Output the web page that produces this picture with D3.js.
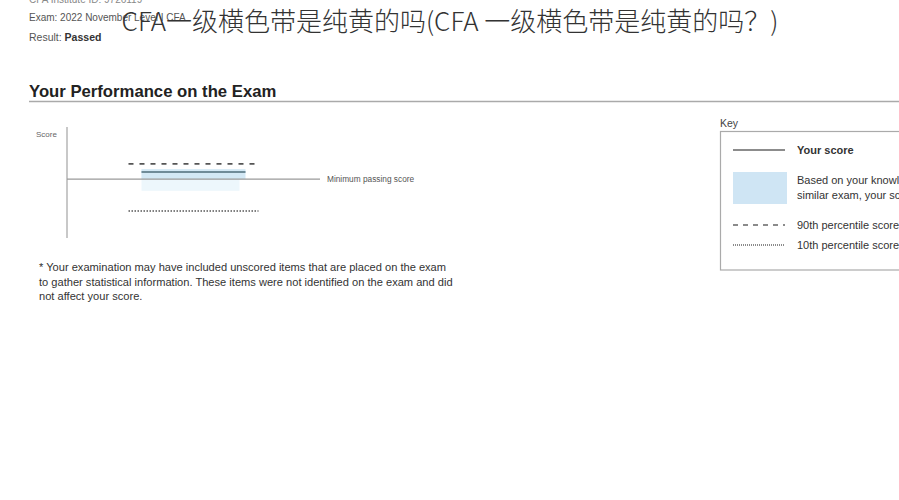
<!DOCTYPE html>
<html><head><meta charset="utf-8">
<script src="https://cdn.jsdelivr.net/npm/d3@7/dist/d3.min.js"></script>
<style>body{margin:0;background:#fff;}svg{display:block;}</style>
</head><body><div id="c"></div>
<script>
// ---- data ----
const categories = ["Exam"];
const minimumPassing = [53];
const yourScore = [59.5];
const bandLow = [42.5];
const bandHigh = [62];
const p90 = [66.7];
const p10 = [24.3];
const scoreDomain = [0, 100];
const headerLines = ["CFA Institute ID: 9726119", "Exam: 2022 November Level I CFA", "Result: "];
const resultText = "Passed";
const titleText = "CFA一级横色带是纯黄的吗(CFA 一级横色带是纯黄的吗？)";
const sectionTitle = "Your Performance on the Exam";
const footnote = ["* Your examination may have included unscored items that are placed on the exam",
  "to gather statistical information. These items were not identified on the exam and did",
  "not affect your score."];
const keyItems = [
  {type:"solid", text:["Your score"], bold:true},
  {type:"band", text:["Based on your knowledge of the topics, if you took a", "similar exam, your score would likely fall in this range"]},
  {type:"dash", text:["90th percentile score"]},
  {type:"dot", text:["10th percentile score"]}
];

const W = 899, H = 500;
const svg = d3.select("#c").append("svg").attr("width", W).attr("height", H);
const sans = "'Liberation Sans', Arial, sans-serif";

// header
svg.append("text").attr("x", 29).attr("y", 3).attr("font-family", sans).attr("font-size", 10)
  .attr("fill", "#888").text(headerLines[0]);
svg.append("text").attr("x", 29).attr("y", 21).attr("font-family", sans).attr("font-size", 10)
  .attr("fill", "#555").text(headerLines[1]);
const r = svg.append("text").attr("x", 29).attr("y", 41).attr("font-family", sans).attr("font-size", 10.5).attr("fill", "#555");
r.append("tspan").text(headerLines[2]);
r.append("tspan").attr("font-weight", "bold").attr("fill", "#333").text(resultText);

// section title
svg.append("text").attr("x", 29).attr("y", 97).attr("font-family", sans).attr("font-size", 16.7)
  .attr("font-weight", "bold").attr("fill", "#222").text(sectionTitle);
svg.append("line").attr("x1", 29).attr("x2", W).attr("y1", 101.5).attr("y2", 101.5)
  .attr("stroke", "#aaa").attr("stroke-width", 1.5);

// chart
const y = d3.scaleLinear().domain(scoreDomain).range([238, 127]);
const x = d3.scaleBand().domain(categories).range([67, 320]).paddingInner(0).paddingOuter(0.473);
const inset = 13;

const g = svg.append("g");
g.append("text").attr("x", 36).attr("y", 137).attr("font-family", sans).attr("font-size", 8).attr("fill", "#666").text("Score");

// band
categories.forEach((c, i) => {
  g.append("rect").attr("x", x(c) + inset).attr("width", x.bandwidth() - 2 * inset - 6)
    .attr("y", y(bandHigh[i])).attr("height", y(bandLow[i]) - y(bandHigh[i]))
    .attr("fill", "#e6f3fb").attr("opacity", 0.7);
  g.append("rect").attr("x", x(c) + inset).attr("width", x.bandwidth() - 2 * inset)
    .attr("y", y(bandHigh[i])).attr("height", y(minimumPassing[i]) - y(bandHigh[i]))
    .attr("fill", "#d3e8f5");
});

// axis
g.append("line").attr("x1", 67).attr("x2", 67).attr("y1", y(scoreDomain[1])).attr("y2", y(scoreDomain[0]))
  .attr("stroke", "#c8c8c8").attr("stroke-width", 2);
// min passing
g.append("line").attr("x1", 67).attr("x2", 320).attr("y1", y(minimumPassing[0])).attr("y2", y(minimumPassing[0]))
  .attr("stroke", "#9a9a9a").attr("stroke-width", 1.2);
g.append("text").attr("x", 327).attr("y", y(minimumPassing[0]) + 3).attr("font-family", sans).attr("font-size", 8.3)
  .attr("fill", "#555").text("Minimum passing score");

categories.forEach((c, i) => {
  g.append("line").attr("x1", x(c)).attr("x2", x(c) + x.bandwidth()).attr("y1", y(p90[i])).attr("y2", y(p90[i]))
    .attr("stroke", "#555").attr("stroke-width", 1.8).attr("stroke-dasharray", "5,6");
  g.append("line").attr("x1", x(c) + inset).attr("x2", x(c) + x.bandwidth() - inset).attr("y1", y(yourScore[i])).attr("y2", y(yourScore[i]))
    .attr("stroke", "#6f8b98").attr("stroke-width", 2);
  g.append("line").attr("x1", x(c)).attr("x2", x(c) + x.bandwidth()).attr("y1", y(p10[i])).attr("y2", y(p10[i]))
    .attr("stroke", "#555").attr("stroke-width", 1.6).attr("stroke-dasharray", "1.5,1.5");
});

// footnote
footnote.forEach((t, i) => svg.append("text").attr("x", 39).attr("y", 271 + i * 14.5).attr("font-family", sans)
  .attr("font-size", 11.1).attr("fill", "#333").text(t));

// key
svg.append("text").attr("x", 720).attr("y", 127).attr("font-family", sans).attr("font-size", 10.5).attr("fill", "#444").text("Key");
svg.append("rect").attr("x", 720.5).attr("y", 131.5).attr("width", 200).attr("height", 138.5)
  .attr("fill", "none").attr("stroke", "#aaa").attr("stroke-width", 1.2);
const ky = [150, 188, 225, 245];
keyItems.forEach((k, i) => {
  const yy = ky[i];
  if (k.type === "solid") svg.append("line").attr("x1", 733).attr("x2", 785).attr("y1", yy).attr("y2", yy).attr("stroke", "#666").attr("stroke-width", 1.6);
  if (k.type === "band") svg.append("rect").attr("x", 733).attr("y", 172).attr("width", 54).attr("height", 32).attr("fill", "#cfe5f4");
  if (k.type === "dash") svg.append("line").attr("x1", 733).attr("x2", 785).attr("y1", yy).attr("y2", yy).attr("stroke", "#666").attr("stroke-width", 1.3).attr("stroke-dasharray", "5,5");
  if (k.type === "dot") svg.append("line").attr("x1", 733).attr("x2", 785).attr("y1", yy).attr("y2", yy).attr("stroke", "#666").attr("stroke-width", 1.4).attr("stroke-dasharray", "1,1");
  k.text.forEach((t, j) => {
    const ty = k.type === "band" ? 184 + j * 15 : yy + 3.5;
    svg.append("text").attr("x", 797).attr("y", ty).attr("font-family", sans).attr("font-size", 11)
      .attr("font-weight", k.bold ? "bold" : "normal").attr("fill", "#333").text(t);
  });
});

// overlay title
svg.append("text").attr("x", 450).attr("y", 31).attr("text-anchor", "middle")
  .attr("font-family", "'Noto Sans CJK SC', sans-serif").attr("font-size", 26).attr("font-weight", 300)
  .attr("fill", "#333").text(titleText);
</script></body></html>
